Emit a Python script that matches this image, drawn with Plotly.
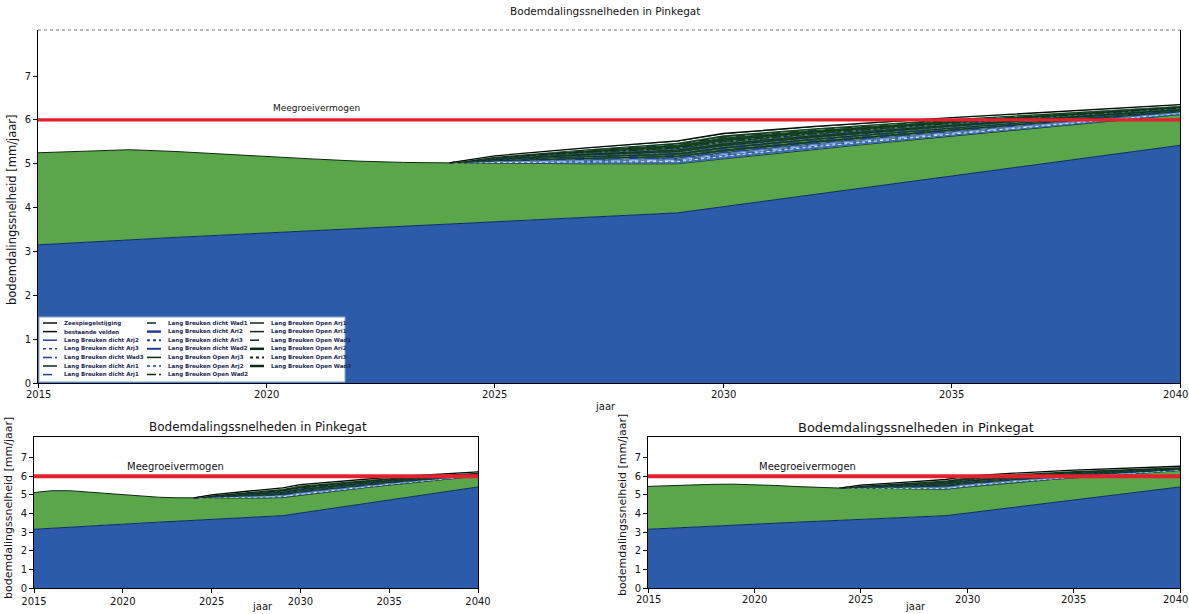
import numpy as np
import plotly.graph_objects as go

# ---------------- data ----------------
years = list(range(2015, 2041))
# sea-level component (blue)
zeespiegel = [3.15, 3.21, 3.27, 3.32, 3.37, 3.42, 3.48, 3.53, 3.58, 3.63, 3.68, 3.73, 3.78,
              3.83, 3.88, 4.02, 4.16, 4.30, 4.44, 4.58, 4.72, 4.86, 5.00, 5.14, 5.28, 5.42]
# existing fields component (green) for the three panels
velden_boven = [2.10, 2.08, 2.05, 1.96, 1.85, 1.74, 1.63, 1.53, 1.45, 1.39, 1.33, 1.27, 1.22,
                1.17, 1.12, 1.09, 1.06, 1.03, 0.99, 0.95, 0.91, 0.87, 0.83, 0.79, 0.75, 0.70]
velden_links = [1.97, 2.01, 1.95, 1.83, 1.69, 1.56, 1.44, 1.34, 1.26, 1.20, 1.15, 1.10, 1.05,
                1.00, 0.97, 0.95, 0.93, 0.90, 0.87, 0.84, 0.80, 0.76, 0.72, 0.68, 0.64, 0.58]
velden_rechts = [2.30, 2.29, 2.26, 2.24, 2.20, 2.13, 2.02, 1.91, 1.81, 1.73, 1.67, 1.60, 1.53,
                 1.47, 1.42, 1.40, 1.37, 1.33, 1.29, 1.24, 1.18, 1.12, 1.06, 1.00, 0.94, 0.88]

# scenario totals above the existing-field level (cumulative, bottom -> top)
scen_years = [2024, 2025, 2027, 2029, 2030, 2032, 2035, 2040]
scen_names = [
    "Lang Breuken dicht Arj2", "Lang Breuken dicht Arj3", "Lang Breuken dicht Wad3",
    "Lang Breuken dicht Ari1", "Lang Breuken dicht Arj1", "Lang Breuken dicht Wad1",
    "Lang Breuken dicht Ari2", "Lang Breuken dicht Ari3", "Lang Breuken dicht Wad2",
    "Lang Breuken Open Arj3", "Lang Breuken Open Arj2", "Lang Breuken Open Wad2",
    "Lang Breuken Open Arj1", "Lang Breuken Open Ari1", "Lang Breuken Open Wad1",
    "Lang Breuken Open Ari2", "Lang Breuken Open Ari3", "Lang Breuken Open Wad3",
]
scen_extra = [
    [0, 0.02, 0.04, 0.05, 0.06, 0.06, 0.05, 0.03],
    [0, 0.03, 0.06, 0.08, 0.10, 0.09, 0.07, 0.04],
    [0, 0.04, 0.08, 0.11, 0.12, 0.11, 0.09, 0.05],
    [0, 0.05, 0.10, 0.14, 0.16, 0.14, 0.11, 0.06],
    [0, 0.06, 0.12, 0.17, 0.19, 0.17, 0.14, 0.07],
    [0, 0.07, 0.14, 0.19, 0.22, 0.20, 0.16, 0.08],
    [0, 0.08, 0.16, 0.22, 0.25, 0.23, 0.18, 0.09],
    [0, 0.08, 0.18, 0.25, 0.28, 0.25, 0.20, 0.10],
    [0, 0.09, 0.20, 0.28, 0.31, 0.28, 0.23, 0.11],
    [0, 0.10, 0.22, 0.31, 0.34, 0.31, 0.25, 0.12],
    [0, 0.11, 0.24, 0.33, 0.37, 0.33, 0.27, 0.14],
    [0, 0.12, 0.26, 0.36, 0.40, 0.36, 0.29, 0.15],
    [0, 0.13, 0.27, 0.38, 0.43, 0.39, 0.31, 0.16],
    [0, 0.14, 0.29, 0.41, 0.46, 0.41, 0.33, 0.17],
    [0, 0.15, 0.31, 0.44, 0.49, 0.44, 0.36, 0.19],
    [0, 0.15, 0.33, 0.46, 0.52, 0.47, 0.38, 0.20],
    [0, 0.16, 0.34, 0.49, 0.55, 0.49, 0.40, 0.21],
    [0, 0.17, 0.36, 0.52, 0.58, 0.52, 0.42, 0.23],
]
meegroeivermogen = 6.0
base_names = ["Zeespiegelstijging", "bestaande velden"]
xticks = [2015, 2020, 2025, 2030, 2035, 2040]
yticks = [0, 1, 2, 3, 4, 5, 6, 7]
title_text = "Bodemdalingssnelheden in Pinkegat"
ytitle = "bodemdalingssnelheid [mm/jaar]"
xtitle = "jaar"

# ---------------- style ----------------
W, H = 1189, 614
def px(x):
    return x / W
def py(y):
    return 1 - y / H

BLUE = "#2c5ba9"
GREEN = "#5ba64b"
RED = "#e3202b"
SANS = "DejaVu Sans, Verdana, sans-serif"
INK = "#141414"

scen_fill = ["#3a6cb0", "#2b5a9c", "#24508a", "#1f4a78", "#1e5a36", "#1b5230",
             "#22602f", "#184a2a", "#1d5a31", "#1a5029", "#225f30", "#174827",
             "#1e5a2e", "#1a5129", "#215d31", "#1c5a2d", "#185027", "#164a24"]
scen_line = ["#e6eef8", "#a9c6e8", "#5d8fd0", "#1f3f8a", "#0d3318", "#1f3f8a",
             "#0d3318", "#2a4f9a", "#0d3318", "#0d3318", "#1f3f8a", "#0d3318",
             "#0d3318", "#0d3318", "#0d3318", "#0d3318", "#ffffff", "#050a05"]
scen_dash = ["dot", "dash", "dashdot", "dash", "solid", "dash", "solid", "dot", "solid",
             "solid", "dot", "dashdot", "solid", "solid", "dash", "solid", "solid", "solid"]

# panel order: bottom-left, bottom-right, main
panels = [
    dict(xa="x", ya="y", velden=velden_links, x0=34, x1=478, y0=588, y1=437,
         yr=8.1, redw=4, mirror=True, own_labels=False, mfs=10),
    dict(xa="x2", ya="y2", velden=velden_rechts, x0=648, x1=1180, y0=588, y1=437,
         yr=8.1, redw=4, mirror=True, own_labels=True, mfs=10),
    dict(xa="x3", ya="y3", velden=velden_boven, x0=38, x1=1180, y0=383, y1=30,
         yr=8.05, redw=3.2, mirror=False, own_labels=True, mfs=9),
]

fig = go.Figure()
blue = np.array(zeespiegel)
idx = [years.index(s) for s in scen_years]

for p in panels:
    tot = blue + np.array(p["velden"])
    fig.add_trace(go.Scatter(x=years, y=blue, mode="lines", fill="tozeroy", fillcolor=BLUE,
                             line=dict(color="#0c2a66", width=1), name=base_names[0],
                             xaxis=p["xa"], yaxis=p["ya"], showlegend=False, hoverinfo="skip"))
    fig.add_trace(go.Scatter(x=years, y=tot, mode="lines", fill="tonexty", fillcolor=GREEN,
                             line=dict(color="#0e2a12", width=1), name=base_names[1],
                             xaxis=p["xa"], yaxis=p["ya"], showlegend=False, hoverinfo="skip"))
    base_s = tot[idx]
    fig.add_trace(go.Scatter(x=scen_years, y=base_s, mode="lines", line=dict(width=0),
                             hoverinfo="skip", xaxis=p["xa"], yaxis=p["ya"], showlegend=False))
    for k, ex in enumerate(scen_extra):
        fig.add_trace(go.Scatter(x=scen_years, y=base_s + np.array(ex), mode="lines",
                                 fill="tonexty", fillcolor=scen_fill[k],
                                 line=dict(color=scen_line[k], width=1 if k < 17 else 1.3,
                                           dash=scen_dash[k]),
                                 name=scen_names[k], xaxis=p["xa"], yaxis=p["ya"],
                                 showlegend=False, hoverinfo="skip"))
    fig.add_trace(go.Scatter(x=[years[0], years[-1]], y=[meegroeivermogen] * 2, mode="lines",
                             line=dict(color=RED, width=p["redw"]), name="Meegroeivermogen",
                             xaxis=p["xa"], yaxis=p["ya"], showlegend=False, hoverinfo="skip"))

axis_common = dict(showline=True, linecolor="black", linewidth=1, ticks="outside", ticklen=4,
                   tickcolor="black", showgrid=False, zeroline=False, automargin=False,
                   ticklabeloverflow="allow", fixedrange=True)

layout = dict(width=W, height=H, paper_bgcolor="white", plot_bgcolor="white",
              margin=dict(l=0, r=0, t=0, b=0), showlegend=False, hovermode=False,
              dragmode=False)
tf = dict(family=SANS, size=10, color=INK)
for i, p in enumerate(panels):
    sfx = "" if i == 0 else str(i + 1)
    layout["xaxis" + sfx] = dict(axis_common, domain=[px(p["x0"]), px(p["x1"])], range=[2015, 2040],
                                 tickvals=xticks, anchor="y" + sfx, mirror=p["mirror"],
                                 tickfont=tf, showticklabels=not p["own_labels"])
    layout["yaxis" + sfx] = dict(axis_common, domain=[py(p["y0"]), py(p["y1"])], range=[0, p["yr"]],
                                 tickvals=yticks, anchor="x" + sfx, mirror=True, tickfont=tf)
fig.update_layout(**layout)

# x tick labels of the main and bottom-right axes, placed on their own x scales
for p in panels:
    if p["own_labels"]:
        for v in xticks:
            fig.add_annotation(text=str(v), xref=p["xa"], yref="paper", x=v, y=py(p["y0"] + 5),
                               xanchor="center", yanchor="top", showarrow=False,
                               bgcolor="white", borderpad=0,
                               xshift=-5 if v == xticks[-1] else 0, font=tf)

# dotted top border of the main chart
fig.add_shape(type="line", xref="paper", yref="paper", x0=px(38), x1=px(1180), y0=py(30), y1=py(30),
              line=dict(color="#777777", width=1, dash="dot"))

def label(text, x, y, size, angle=0, xanchor="center"):
    fig.add_annotation(text=text, xref="paper", yref="paper", x=px(x), y=py(y),
                       xanchor=xanchor, yanchor="middle", textangle=angle, showarrow=False,
                       font=dict(family=SANS, size=size, color=INK))

# titles
label(title_text, 605, 11, 10.5)
label(title_text, 258, 427, 12)
label(title_text, 916, 427, 13)

# axis titles
for (xx, yy) in [(605, 406), (262, 606), (915, 606)]:
    label(xtitle, xx, yy, 10)
for (xx, yy, fs) in [(12, 210, 11.5), (8, 508, 11), (622, 505, 11)]:
    label(ytitle, xx, yy, fs, angle=-90)

# Meegroeivermogen labels
for p in panels:
    fig.add_annotation(text="Meegroeivermogen", xref=p["xa"], yref=p["ya"], x=2020.1,
                       y=meegroeivermogen + 0.12, xanchor="left", yanchor="bottom",
                       showarrow=False, font=dict(family=SANS, size=p["mfs"], color=INK))

# compact three-column legend inside the main chart
legend_names = base_names + scen_names
legend_color = ["#111111", "#111111", "#1f3f9a", "#1f3f9a", "#1f3f9a", "#0d2a14", "#1f3f9a",
                "#0d2a14", "#1f3f9a", "#1f3f9a", "#1f3f9a", "#0d2a14", "#1f3f9a", "#0d2a14",
                "#0d2a14", "#0d2a14", "#0d2a14", "#0d2a14", "#0d2a14", "#0d2a14"]
legend_dash = ["solid", "solid", "solid", "dot", "dashdot", "solid", "dash",
               "dash", "solid", "dot", "solid", "solid", "dot", "dashdot",
               "solid", "solid", "dash", "solid", "dot", "solid"]
legend_width = [1.5, 1.5, 1.5, 1.5, 1.5, 1.5, 1.5,
                1.5, 2.5, 2, 2, 1.5, 1.5, 1.5,
                1.5, 1.5, 1.5, 2.5, 2, 2.5]
fig.add_shape(type="rect", xref="paper", yref="paper", x0=px(39), x1=px(345), y0=py(382), y1=py(317),
              fillcolor="white", line=dict(color="#8aa4c4", width=1))
col_x = [43, 147, 250]
for j, nm in enumerate(legend_names):
    c, r = divmod(j, 7)
    yy = 323 + r * 8.6
    x0 = col_x[c]
    fig.add_shape(type="line", xref="paper", yref="paper", x0=px(x0), x1=px(x0 + 14),
                  y0=py(yy), y1=py(yy),
                  line=dict(color=legend_color[j], width=legend_width[j], dash=legend_dash[j]))
    fig.add_annotation(text="<b>" + nm + "</b>", xref="paper", yref="paper", x=px(x0 + 19), y=py(yy),
                       xanchor="left", yanchor="middle", showarrow=False,
                       font=dict(family=SANS, size=5.5, color="#1b2a55"))

fig.write_html("out.html", config={"displayModeBar": False, "staticPlot": True},
               post_script="document.body.style.margin='0px';")
